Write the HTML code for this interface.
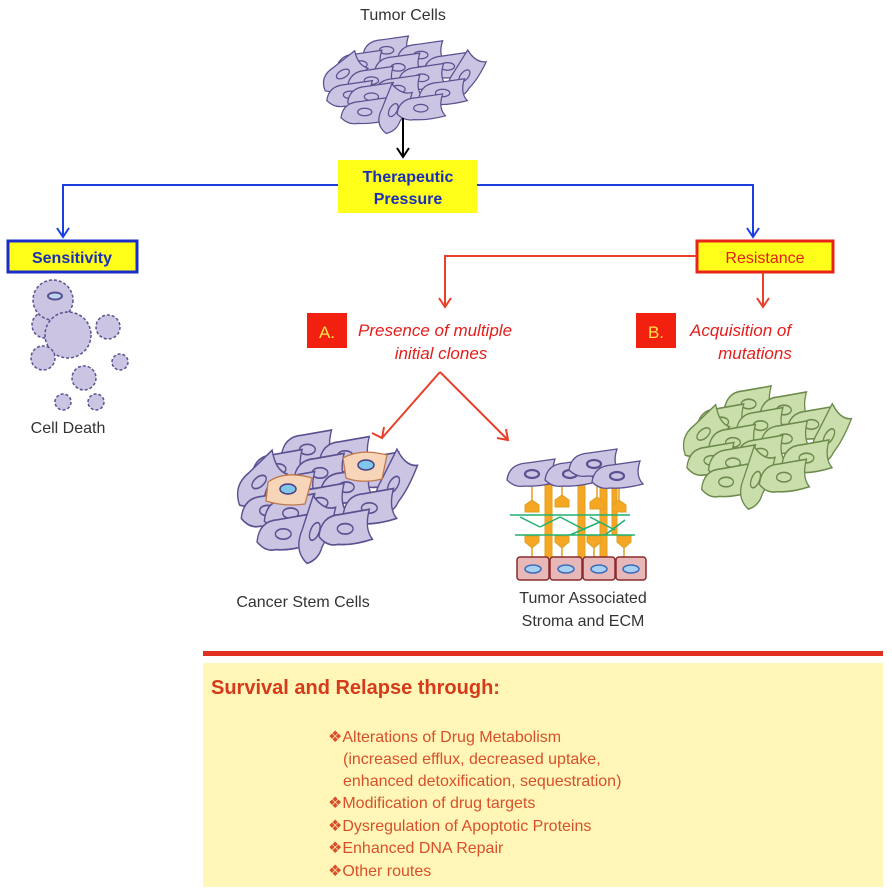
<!DOCTYPE html>
<html><head><meta charset="utf-8"><style>
body{margin:0;background:#fff}
svg{display:block}
text{font-family:"Liberation Sans",sans-serif}
</style></head><body>
<svg width="892" height="893" viewBox="0 0 892 893" xmlns="http://www.w3.org/2000/svg">
<defs>
<symbol id="c" overflow="visible"><path d="M-25,6 Q-23,-10 -5,-11 L23,-15 Q18,0 26,8 Q7,13 -7,12 Q-17,14 -25,6 Z"/></symbol>
<g id="cl">
<g transform="translate(68,15)"><use href="#c"/><ellipse rx="7.5" ry="4" class="n"/></g>
<g transform="translate(104,20)"><use href="#c"/><ellipse rx="7.5" ry="4" class="n"/></g>
<g transform="translate(132,32)"><use href="#c"/><ellipse rx="7.5" ry="4" class="n"/></g>
<g transform="translate(40,30)"><use href="#c"/><ellipse rx="7.5" ry="4" class="n"/></g>
<g transform="translate(80,33)"><use href="#c"/><ellipse rx="7.5" ry="4" class="n"/></g>
<g transform="translate(22,40) rotate(-30)"><use href="#c"/><ellipse rx="7.5" ry="4" class="n"/></g>
<g transform="translate(150,42) rotate(-50)"><use href="#c"/><ellipse rx="7.5" ry="4" class="n"/></g>
<g transform="translate(52,47)"><use href="#c"/><ellipse rx="7.5" ry="4" class="n"/></g>
<g transform="translate(105,44)"><use href="#c"/><ellipse rx="7.5" ry="4" class="n"/></g>
<g transform="translate(30,62)"><use href="#c"/><ellipse rx="7.5" ry="4" class="n"/></g>
<g transform="translate(80,56)"><use href="#c"/><ellipse rx="7.5" ry="4" class="n"/></g>
<g transform="translate(127,60)"><use href="#c"/><ellipse rx="7.5" ry="4" class="n"/></g>
<g transform="translate(52,64)"><use href="#c"/><ellipse rx="7.5" ry="4" class="n"/></g>
<g transform="translate(45,80)"><use href="#c"/><ellipse rx="7.5" ry="4" class="n"/></g>
<g transform="translate(75,78) rotate(-60)"><use href="#c"/><ellipse rx="7.5" ry="4" class="n"/></g>
<g transform="translate(104,76)"><use href="#c"/><ellipse rx="7.5" ry="4" class="n"/></g>
</g>
</defs>
<style>
.t use{fill:#cbc4e2;stroke:#5b5090;stroke-width:1.3}.t .n{fill:#cbc4e2;stroke:#5b5090;stroke-width:2.2}
.s use{fill:#cbc4e2;stroke:#5b5090;stroke-width:1.3}.s .n{fill:#bcd7f4;stroke:#4a3f86;stroke-width:2.4}
.g use{fill:#c9deaa;stroke:#6c8a4c;stroke-width:1.3}.g .n{fill:#cfb6ea;stroke:#5b4290;stroke-width:2.4}
</style>

<text x="403" y="20" font-size="16" text-anchor="middle" fill="#333">Tumor Cells</text>
<g class="t" transform="translate(322,36) scale(0.95,0.95)"><use href="#cl"/></g>
<line x1="403" y1="118" x2="403" y2="155" stroke="#000" stroke-width="2"/>
<path d="M397,148 L403,157 L409,148" fill="none" stroke="#000" stroke-width="2"/>

<rect x="338" y="160" width="139" height="53" fill="#ffff1a"/>
<text x="408" y="182" font-size="16" font-weight="bold" text-anchor="middle" fill="#1a2fb8">Therapeutic</text>
<text x="408" y="204" font-size="16" font-weight="bold" text-anchor="middle" fill="#1a2fb8">Pressure</text>
<g fill="none" stroke="#1b3ee0" stroke-width="2">
<path d="M338,185 H63 V236"/><path d="M57,228 L63,237 L69,228"/>
<path d="M477,185 H753 V236"/><path d="M747,228 L753,237 L759,228"/>
</g>

<rect x="8" y="241" width="129" height="31" fill="#ffff1a" stroke="#1b2fc8" stroke-width="3"/>
<text x="72" y="263" font-size="16" font-weight="bold" text-anchor="middle" fill="#1a2fb8">Sensitivity</text>
<g fill="#cbc4e2" stroke="#5b5090" stroke-width="1.5" stroke-dasharray="3 2">
<circle cx="45" cy="325" r="13"/><circle cx="53" cy="300" r="20"/><circle cx="68" cy="335" r="23"/>
<circle cx="108" cy="327" r="12"/><circle cx="43" cy="358" r="12"/><circle cx="120" cy="362" r="8"/>
<circle cx="84" cy="378" r="12"/><circle cx="63" cy="402" r="8"/><circle cx="96" cy="402" r="8"/>
</g>
<ellipse cx="55" cy="296" rx="7" ry="3.5" fill="#bcd7f4" stroke="#5b5090" stroke-width="2"/>
<text x="68" y="433" font-size="16" text-anchor="middle" fill="#333">Cell Death</text>

<rect x="697" y="241" width="136" height="31" fill="#ffff1a" stroke="#e8231a" stroke-width="3"/>
<text x="765" y="263" font-size="16" text-anchor="middle" fill="#e31e1a">Resistance</text>
<g stroke="#e8402a" stroke-width="2" fill="none">
<path d="M697,256 H445 V305"/><path d="M439,298 L445,307 L451,298"/>
<path d="M763,272 V305"/><path d="M757,298 L763,307 L769,298"/>
<path d="M440,372 L382,438"/><path d="M372,433 L382,438 L384,427"/>
<path d="M440,372 L508,440"/><path d="M497,438 L508,440 L506,429"/>
</g>

<rect x="307" y="313" width="40" height="35" fill="#f2200e"/>
<text x="327" y="338" font-size="17" text-anchor="middle" fill="#ffe24a">A.</text>
<text x="358" y="336" font-size="17" font-style="italic" fill="#e31e1a">Presence of multiple</text>
<text x="441" y="359" font-size="17" font-style="italic" text-anchor="middle" fill="#e31e1a">initial clones</text>
<rect x="636" y="313" width="40" height="35" fill="#f2200e"/>
<text x="656" y="338" font-size="17" text-anchor="middle" fill="#ffe24a">B.</text>
<text x="690" y="336" font-size="17" font-style="italic" fill="#e31e1a">Acquisition of</text>
<text x="755" y="359" font-size="17" font-style="italic" text-anchor="middle" fill="#e31e1a">mutations</text>

<g class="g" transform="translate(682,386) scale(0.98,1.2)"><use href="#cl"/></g>
<g class="s" transform="translate(236,430) scale(1.05,1.3)"><use href="#cl"/></g>
<path d="M268,482 Q285,470 312,478 L305,504 Q285,507 266,501 Z" fill="#f7d5b8" stroke="#c0784a" stroke-width="1.3"/>
<ellipse cx="288" cy="489" rx="8" ry="5" fill="#7ec6ea" stroke="#4a3f86" stroke-width="1.5"/>
<path d="M343,458 Q360,448 387,455 L382,479 Q362,484 346,478 Z" fill="#f7d5b8" stroke="#c0784a" stroke-width="1.3"/>
<ellipse cx="366" cy="465" rx="8" ry="5" fill="#7ec6ea" stroke="#4a3f86" stroke-width="1.5"/>
<text x="303" y="607" font-size="16" text-anchor="middle" fill="#333">Cancer Stem Cells</text>

<!-- stroma -->
<g stroke="#e0a020" fill="#f5a623" stroke-width="1">
<line x1="532" y1="480" x2="532" y2="505" stroke-width="1.5"/><line x1="562" y1="480" x2="562" y2="500" stroke-width="1.5"/><line x1="597" y1="480" x2="597" y2="502" stroke-width="1.5"/><line x1="619" y1="480" x2="619" y2="505" stroke-width="1.5"/>
<line x1="532" y1="548" x2="532" y2="557" stroke-width="1.5"/><line x1="562" y1="548" x2="562" y2="557" stroke-width="1.5"/><line x1="594" y1="548" x2="594" y2="557" stroke-width="1.5"/><line x1="624" y1="548" x2="624" y2="557" stroke-width="1.5"/>
<rect x="545" y="475" width="7" height="82"/><rect x="578" y="473" width="7" height="84"/><rect x="600" y="480" width="7" height="77"/><rect x="612" y="480" width="5" height="55"/>
<path d="M525,505 L532,500 L539,505 V512 H525 Z"/><path d="M555,500 L562,495 L569,500 V507 H555 Z"/><path d="M590,502 L597,497 L604,502 V509 H590 Z"/><path d="M612,505 L619,500 L626,505 V512 H612 Z"/>
<path d="M525,536 H539 V542 L532,548 L525,542 Z"/><path d="M555,536 H569 V542 L562,548 L555,542 Z"/><path d="M587,536 H601 V542 L594,548 L587,542 Z"/><path d="M617,536 H631 V542 L624,548 L617,542 Z"/>
</g>
<g stroke="#20b070" stroke-width="1.5" fill="none">
<path d="M510,515 H630 M515,535 H635 M520,517 L540,527 M540,527 L560,517 M560,517 L585,530 M570,535 L600,522 M590,517 L615,530 M605,535 L625,520"/>
</g>
<g class="t" transform="translate(520,462)">
<g transform="translate(12,12)"><use href="#c"/><ellipse rx="7" ry="4" class="n"/></g>
<g transform="translate(50,12)"><use href="#c"/><ellipse rx="7" ry="4" class="n"/></g>
<g transform="translate(74,2)"><use href="#c"/><ellipse rx="7" ry="4" class="n"/></g>
<g transform="translate(97,14)"><use href="#c"/><ellipse rx="7" ry="4" class="n"/></g>
</g>
<g fill="#e8b8b8" stroke="#8a2a2a" stroke-width="1.5">
<rect x="517" y="557" width="32" height="23" rx="3"/><rect x="550" y="557" width="32" height="23" rx="3"/><rect x="583" y="557" width="32" height="23" rx="3"/><rect x="616" y="557" width="30" height="23" rx="3"/>
</g>
<g fill="#a8d0f4" stroke="#3a6ab8" stroke-width="1.5">
<ellipse cx="533" cy="569" rx="8" ry="4"/><ellipse cx="566" cy="569" rx="8" ry="4"/><ellipse cx="599" cy="569" rx="8" ry="4"/><ellipse cx="631" cy="569" rx="8" ry="4"/>
</g>
<text x="583" y="603" font-size="16" text-anchor="middle" fill="#333">Tumor Associated</text>
<text x="583" y="626" font-size="16" text-anchor="middle" fill="#333">Stroma and ECM</text>

<rect x="203" y="651" width="680" height="5" fill="#e03020"/>
<rect x="203" y="663" width="680" height="224" fill="#fff6b8"/>
<text x="211" y="694" font-size="20" font-weight="bold" fill="#d63a1a">Survival and Relapse through:</text>
<g font-size="16" fill="#d8502a">
<text x="328" y="742">❖Alterations of  Drug Metabolism</text>
<text x="343" y="764">(increased efflux, decreased uptake,</text>
<text x="343" y="786">enhanced detoxification, sequestration)</text>
<text x="328" y="808">❖Modification of drug targets</text>
<text x="328" y="831">❖Dysregulation of Apoptotic Proteins</text>
<text x="328" y="853">❖Enhanced DNA Repair</text>
<text x="328" y="876">❖Other routes</text>
</g>
</svg>
</body></html>
